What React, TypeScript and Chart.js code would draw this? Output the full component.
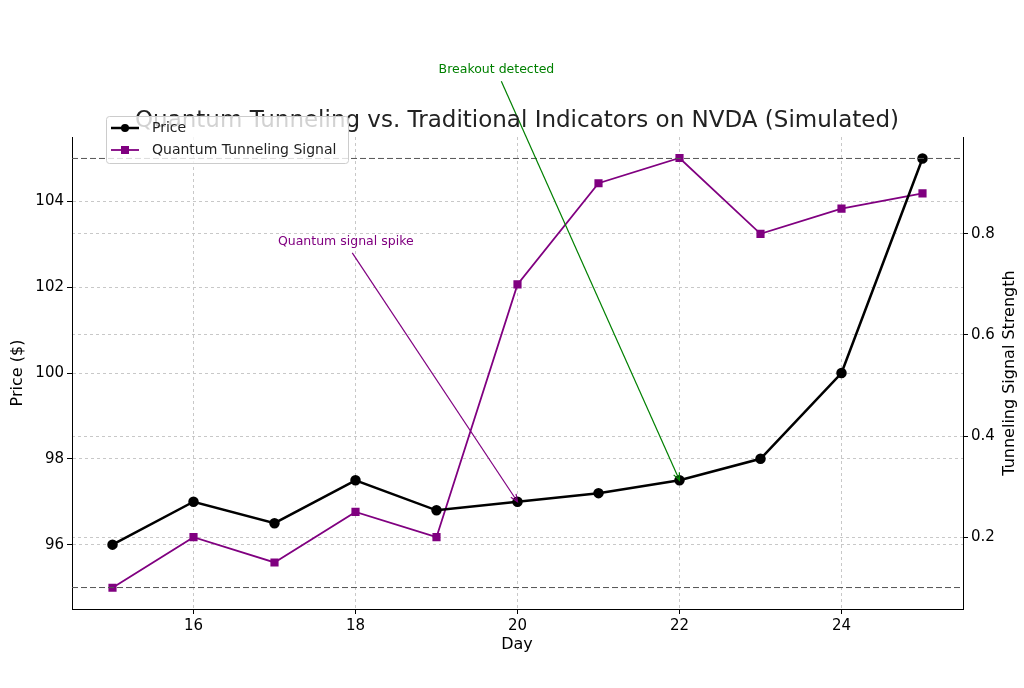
import React, { useEffect, useRef } from "react";
import { Chart, registerables } from "chart.js";
Chart.register(...registerables);

const days = [15, 16, 17, 18, 19, 20, 21, 22, 23, 24, 25];
const price = [96, 97, 96.5, 97.5, 96.8, 97, 97.2, 97.5, 98, 100, 105];
const signal = [0.1, 0.2, 0.15, 0.25, 0.2, 0.7, 0.9, 0.95, 0.8, 0.85, 0.88];
const xTicks = [16, 18, 20, 22, 24];
const yTicks = [96, 98, 100, 102, 104];
const y1Ticks = [0.2, 0.4, 0.6, 0.8];
const refLines = [95, 105];
const annotations = [
  { text: "Quantum signal spike", tx: 17.88, ty: 103.07, sx: 17.96, sy: 102.8, ex: 20, ey: 97, color: "#800080" },
  { text: "Breakout detected", tx: 19.74, ty: 107.07, sx: 19.8, sy: 106.8, ex: 22, ey: 97.5, color: "#008000" },
];
const FONT = "DejaVu Sans, sans-serif";

export default function App() {
  const ref = useRef<HTMLCanvasElement>(null);
  useEffect(() => {
    const plugin = {
      id: "extras",
      afterDatasetsDraw(chart: any) {
        const ctx = chart.ctx;
        const x = chart.scales.x, y = chart.scales.y, ca = chart.chartArea;
        ctx.save();
        ctx.strokeStyle = "#555";
        ctx.lineWidth = 1;
        ctx.setLineDash([6, 3]);
        refLines.forEach((v) => {
          const py = y.getPixelForValue(v);
          ctx.beginPath(); ctx.moveTo(ca.left, py); ctx.lineTo(ca.right, py); ctx.stroke();
        });
        ctx.setLineDash([]);
        annotations.forEach((a) => {
          ctx.strokeStyle = a.color; ctx.fillStyle = a.color; ctx.lineWidth = 1.2;
          const sx = x.getPixelForValue(a.sx), sy = y.getPixelForValue(a.sy);
          const ex = x.getPixelForValue(a.ex), ey = y.getPixelForValue(a.ey);
          ctx.beginPath(); ctx.moveTo(sx, sy); ctx.lineTo(ex, ey); ctx.stroke();
          const ang = Math.atan2(ey - sy, ex - sx);
          ctx.beginPath();
          ctx.moveTo(ex - 8 * Math.cos(ang - 0.4), ey - 8 * Math.sin(ang - 0.4));
          ctx.lineTo(ex, ey);
          ctx.lineTo(ex - 8 * Math.cos(ang + 0.4), ey - 8 * Math.sin(ang + 0.4));
          ctx.stroke();
          ctx.font = `12.5px ${FONT}`; ctx.textAlign = "center"; ctx.textBaseline = "middle";
          ctx.fillText(a.text, x.getPixelForValue(a.tx), y.getPixelForValue(a.ty));
        });
        ctx.fillStyle = "#222"; ctx.font = `23px ${FONT}`; ctx.textAlign = "center"; ctx.textBaseline = "middle";
        ctx.fillText("Quantum Tunneling vs. Traditional Indicators on NVDA (Simulated)", 517, 121);
        // axis titles
        ctx.fillStyle = "#000"; ctx.font = `16px ${FONT}`;
        ctx.fillText("Day", 517, 645);
        ctx.save(); ctx.translate(18, 373); ctx.rotate(-Math.PI / 2); ctx.fillText("Price ($)", 0, 0); ctx.restore();
        ctx.save(); ctx.translate(1010, 373); ctx.rotate(-Math.PI / 2); ctx.fillText("Tunneling Signal Strength", 0, 0); ctx.restore();
        // legend
        ctx.fillStyle = "rgba(255,255,255,0.8)"; ctx.strokeStyle = "#ccc"; ctx.lineWidth = 1;
        ctx.beginPath(); ctx.roundRect(106.5, 116.5, 242, 47, 3); ctx.fill(); ctx.stroke();
        const items = [
          { label: "Price", color: "#000", w: 2.5, circle: true, y: 128 },
          { label: "Quantum Tunneling Signal", color: "#800080", w: 1.8, circle: false, y: 150 },
        ];
        items.forEach((it) => {
          ctx.strokeStyle = it.color; ctx.fillStyle = it.color; ctx.lineWidth = it.w;
          ctx.beginPath(); ctx.moveTo(111, it.y); ctx.lineTo(139, it.y); ctx.stroke();
          ctx.beginPath();
          if (it.circle) ctx.arc(125, it.y, 4, 0, Math.PI * 2); else ctx.rect(121, it.y - 4, 8, 8);
          ctx.fill();
          ctx.fillStyle = "#222"; ctx.font = `14px ${FONT}`; ctx.textAlign = "left";
          ctx.fillText(it.label, 152, it.y);
        });
        ctx.restore();
      },
    };
    const grid = { color: "#c8c8c8", drawTicks: true, tickLength: 5, tickColor: "#000" } as any;
    const border = { color: "#000", dash: [3, 3] } as any;
    const tickFont = { family: FONT, size: 15 };
    const chart = new Chart(ref.current!, {
      type: "line",
      data: {
        datasets: [
          { label: "Price", data: days.map((d, i) => ({ x: d, y: price[i] })), borderColor: "#000", backgroundColor: "#000", borderWidth: 2.5, pointRadius: 4, pointStyle: "circle", yAxisID: "y" },
          { label: "Quantum Tunneling Signal", data: days.map((d, i) => ({ x: d, y: signal[i] })), borderColor: "#800080", backgroundColor: "#800080", borderWidth: 1.8, pointRadius: 4.5, pointStyle: "rect", yAxisID: "y1" },
        ],
      },
      options: {
        animation: false, responsive: false,
        layout: { padding: { top: 137, left: 0, right: 0, bottom: 0 } },
        plugins: { legend: { display: false }, tooltip: { enabled: false } },
        scales: {
          x: { type: "linear", min: 14.5, max: 25.5, grid, border,
            afterBuildTicks: (s: any) => { s.ticks = xTicks.map((v) => ({ value: v })); },
            ticks: { color: "#000", font: tickFont },
            afterFit: (s: any) => { s.height = 79; } },
          y: { min: 94.5, max: 105.5, position: "left", grid, border,
            afterBuildTicks: (s: any) => { s.ticks = yTicks.map((v) => ({ value: v })); },
            ticks: { color: "#000", font: tickFont },
            afterFit: (s: any) => { s.width = 72; } },
          y1: { min: 0.058, max: 0.9915, position: "right", grid, border,
            afterBuildTicks: (s: any) => { s.ticks = y1Ticks.map((v) => ({ value: v })); },
            ticks: { color: "#000", font: tickFont, callback: (v: any) => Number(v).toFixed(1) },
            afterFit: (s: any) => { s.width = 61; } },
        },
      } as any,
      plugins: [plugin],
    });
    return () => chart.destroy();
  }, []);
  return (
    <div style={{ position: "absolute", left: 0, top: 0, width: 1024, height: 688, background: "#fff" }}>
      <canvas ref={ref} width={1024} height={688} />
    </div>
  );
}
